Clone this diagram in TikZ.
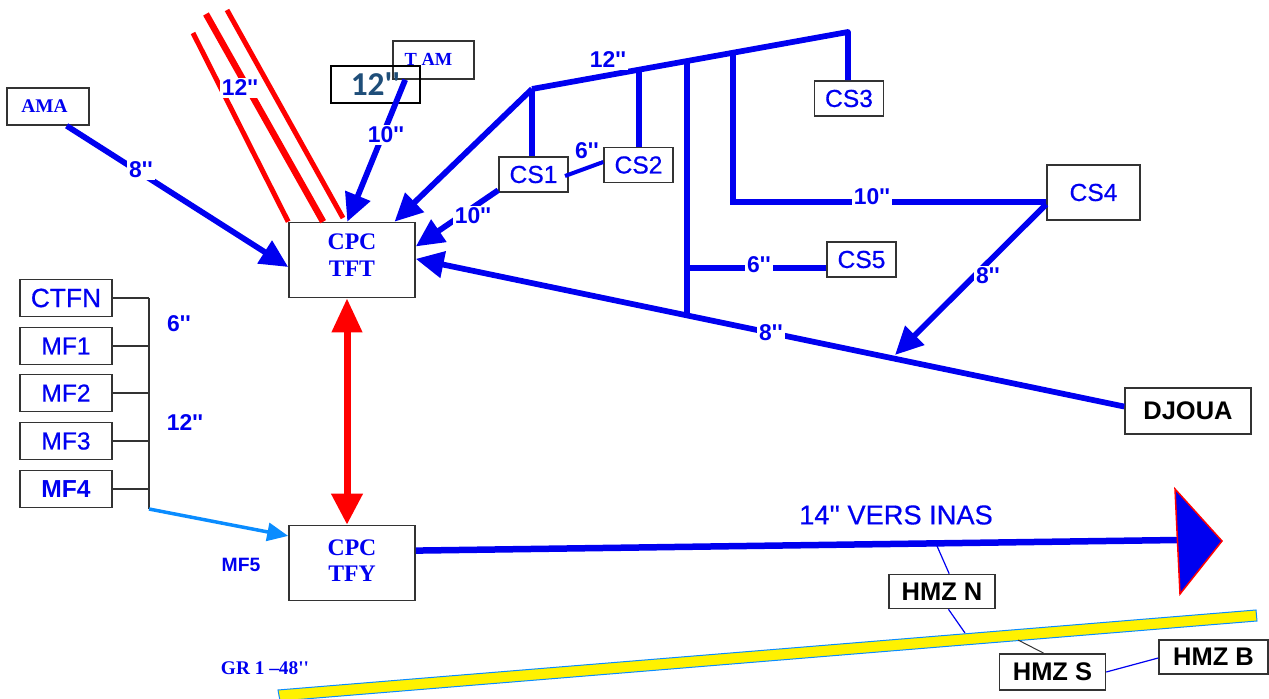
\documentclass[tikz,border=0pt]{standalone}
\usepackage{fontspec}
\usetikzlibrary{arrows.meta}
\newfontfamily\sansfnt[FakeBold=0.6]{Liberation Sans}
\newfontfamily\sansbold{Liberation Sans Bold}
\newfontfamily\seriffnt{Liberation Serif}
\newfontfamily\calfnt{Carlito}
\definecolor{pipeblue}{HTML}{0000F0}
\definecolor{pipered}{HTML}{FF0000}
\definecolor{skyblue}{HTML}{0A8CFF}
\definecolor{slateblue}{HTML}{1F4E79}
\definecolor{boxgray}{HTML}{333333}

\begin{document}
\begin{tikzpicture}[x=0.02cm,y=-0.02cm,
      box/.style={draw=boxgray, line width=.032cm, fill=white, inner sep=0pt, align=center, text=pipeblue},
      cs/.style={box, minimum width=1.38cm, minimum height=.7cm, font=\sansfnt\fontsize{14}{16}\selectfont},
      mf/.style={box, minimum width=1.84cm, minimum height=.74cm, font=\sansfnt\fontsize{14}{16}\selectfont},
      cpc/.style={box, minimum width=2.52cm, minimum height=1.5cm, font=\seriffnt\bfseries\fontsize{13.5}{15}\selectfont},
      hmz/.style={box, minimum width=2.12cm, minimum height=.68cm, text=black, font=\sansbold\fontsize{14.5}{16}\selectfont},
      lbl/.style={fill=white, inner sep=1pt, text=pipeblue, font=\sansbold\fontsize{13}{15}\selectfont},
      pipe/.style={draw=pipeblue, line width=.115cm},
      feed/.style={pipe, -{Triangle[length=.56cm,width=.52cm]}},
      redpipe/.style={draw=pipered, line width=.1cm},
      tie/.style={draw=pipeblue, line width=.024cm}]
    \useasboundingbox (0,0) rectangle (1269,699);
    \node[box, minimum width=1.64cm, minimum height=.74cm, font=\seriffnt\bfseries\fontsize{11}{12}\selectfont] (ama) at (48,106.5) {\hspace*{-.14cm}AMA};
    \node[box, minimum width=1.62cm, minimum height=.76cm, font=\seriffnt\bfseries\fontsize{10.5}{12}\selectfont] (tam) at (433.5,60) {\raisebox{1pt}{\hspace*{-.2cm}T AM}};
    \node[box, draw=black, fill=none, minimum width=1.78cm, minimum height=.74cm, text=slateblue, font=\calfnt\bfseries\fontsize{19}{19}\selectfont] (tambox) at (375.5,84.5) {\raisebox{-4pt}{12''}};
    \node[cpc] (tft) at (352,260) {CPC\\TFT\\[-9.5pt]{}};
    \node[cpc] (tfy) at (352,563) {CPC\\TFY\\[-12pt]{}};
    \node[cs] (cs1) at (533.5,174.5) {CS1};
    \node[cs] (cs2) at (638.5,165) {CS2};
    \node[cs] (cs3) at (849,98.5) {CS3};
    \node[cs, minimum width=1.86cm, minimum height=1.1cm] (cs4) at (1093.5,192.5) {CS4};
    \node[cs] (cs5) at (861.5,259.5) {CS5};
    \node[cs, minimum width=2.52cm, minimum height=.92cm, text=black, font=\sansbold\fontsize{14.5}{16}\selectfont] (djoua) at (1188,411) {DJOUA};
    \node[mf, font=\sansfnt\fontsize{15}{16}\selectfont] (ctfn) at (66,298) {CTFN};
    \node[mf] (mf1) at (66,346) {MF1};
    \node[mf] (mf2) at (66,393) {MF2};
    \node[mf] (mf3) at (66,441) {MF3};
    \node[mf, font=\sansbold\fontsize{14}{16}\selectfont] (mf4) at (66,489) {MF4};
    \node[hmz] (hmzn) at (942,591.5) {HMZ N};
    \node[hmz, minimum height=.72cm] (hmzs) at (1052.5,672) {HMZ S};
    \node[hmz, minimum width=2.18cm] (hmzb) at (1213.5,657) {HMZ B};

    \coordinate (red1) at (193,33);
    \coordinate (red2) at (206,14);
    \coordinate (red3) at (227,10);
    \coordinate (red3end) at (343,218);
    \coordinate (bend) at (532,89);
    \coordinate (top) at (848,32);
    \coordinate (tapcs2) at (639,70);
    \coordinate (tapmain) at (687,61);
    \coordinate (tapcs4) at (733,53);
    \coordinate (cornercs4) at (733,202);
    \coordinate (tap8) at (687,316);
    \coordinate (tapcs5) at (687,268);
    \coordinate (tip8) at (895,355);
    \coordinate (trunk) at (149,509);
    \coordinate (inas) at (1178,540);
    \coordinate (gr1) at (965,633);
    \coordinate (gr2) at (1018,640);
    \coordinate (taphmz) at (937,546);

    \draw[redpipe] (red1) -- (tft.north west);
    \draw[redpipe, line width=.13cm] (red2) -- (tft.127);
    \draw[redpipe] (red3) -- (red3end);
    \draw[feed] (ama.-46) -- (tft.west |- 0,267);
    \draw[feed] (tam.215) -- (tft.97);
    \draw[feed] (bend) -- (tft.42);
    \draw[feed] (cs1.204) -- (tft.12);
    \draw[feed] (djoua.176) -- (tft.1);
    \draw[feed] (cs4.194) -- (tip8);
    \draw[pipe, line join=round] (bend) -- (top) -- (cs3.north -| top);
    \draw[pipe] (bend) -- (bend |- cs1.north);
    \draw[pipe] (tapcs2) -- (tapcs2 |- cs2.north);
    \draw[pipe] (tapmain) -- (tap8);
    \draw[pipe, line join=miter] (tapcs4) -- (cornercs4) -- (cornercs4 -| cs4.west);
    \draw[pipe] (tapcs5) -- (tapcs5 -| cs5.west);
    \draw[pipe, line width=.08cm] (565,176) -- (cs2.west |- 0,162);

    \foreach \n in {ctfn,mf1,mf2,mf3,mf4} {
      \draw[boxgray, line width=.026cm] (\n.east) -- (\n.east -| trunk);
    }
    \draw[boxgray, line width=.03cm] (ctfn.east -| trunk) -- (trunk);
    \draw[skyblue, line width=.07cm, -{Triangle[length=.42cm,width=.36cm]}] (trunk) -- (tfy.157);
    \draw[pipered, line width=.14cm, {Triangle[length=.68cm,width=.58cm]}-{Triangle[length=.62cm,width=.6cm]}] (tft.south -| 347,0) -- (tfy.north -| 347,0);

    \draw[pipe, line width=.13cm] (tfy.11) -- (inas);
    \draw[draw=pipered, fill=pipeblue, line width=.03cm] (1175,489) -- (1222,541) -- (1180,594) -- cycle;

    \draw[draw=skyblue, fill=yellow, line width=.02cm] (278,690) -- (1256,610) -- (1257,621) -- (280,701) -- cycle;
    \draw[tie] (taphmz) -- (hmzn.68);
    \draw[tie] (hmzn.-70) -- (gr1);
    \draw[boxgray, line width=.02cm] (gr2) -- (hmzs.115);
    \draw[tie] (hmzs.east) -- (hmzb.west |- 0,658);

    \node[lbl] (l12a) at (240,88) {12''};
    \node[lbl] (l10a) at (386,135) {10''};
    \node[lbl] (l8a) at (141,170) {8''};
    \node[lbl] (l10b) at (473,216) {10''};
    \node[lbl] (l12b) at (608,60) {12''};
    \node[lbl] (l6a) at (587,151) {6''};
    \node[lbl] (l10c) at (872,197) {10''};
    \node[lbl] (l6b) at (759,265) {6''};
    \node[lbl] (l8b) at (988,276) {8''};
    \node[lbl] (l8c) at (771,333) {8''};
    \node[lbl] (l6c) at (179,324) {6''};
    \node[lbl] (l12c) at (185,423) {12''};
    \node[lbl, font=\sansbold\fontsize{11}{13}\selectfont] (lmf5) at (241,565) {MF5};
    \node[lbl, fill=none, font=\sansfnt\fontsize{15.5}{18}\selectfont] (linas) at (896,515) {14'' VERS INAS};
    \node[lbl, fill=none, font=\seriffnt\bfseries\fontsize{11}{13}\selectfont] (lgr) at (265,668) {GR 1 –48''};
  \end{tikzpicture}
\end{document}
